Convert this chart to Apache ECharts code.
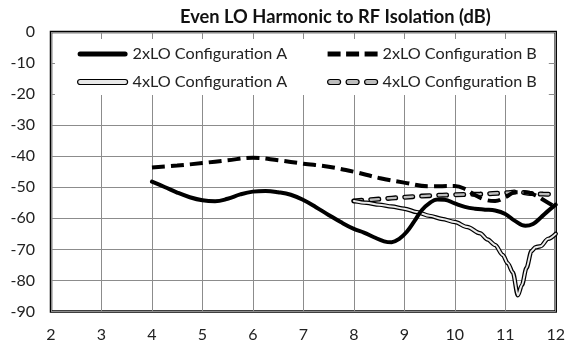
<!DOCTYPE html>
<html>
<head>
<meta charset="utf-8">
<script src="https://cdn.jsdelivr.net/npm/echarts@6/dist/echarts.min.js"></script>
<style>
  html, body { margin: 0; padding: 0; background: #fff; }
  #chart { width: 568px; height: 349px; }
</style>
</head>
<body>
<div id="chart"></div>
<script>
// Frequency (x) and isolation (dB) for each configuration
const freq2xA = [4.0, 4.25, 4.5, 4.75, 5.0, 5.25, 5.5, 5.75, 6.0, 6.25, 6.5, 6.75, 7.0, 7.25, 7.5, 7.75, 8.0, 8.2, 8.4, 8.6, 8.75, 8.9, 9.05, 9.2, 9.35, 9.5, 9.65, 9.8, 10.0, 10.2, 10.4, 10.6, 10.8, 11.0, 11.2, 11.4, 11.55, 11.7, 11.85, 12.0];
const iso2xA  = [-48.2, -49.9, -51.7, -53.2, -54.2, -54.5, -53.7, -52.3, -51.4, -51.2, -51.6, -52.4, -54.1, -56.4, -58.9, -61.3, -63.4, -64.6, -66.1, -67.4, -67.7, -66.6, -64.3, -60.9, -57.3, -55.1, -53.9, -54.0, -55.2, -56.3, -56.9, -57.2, -57.5, -58.6, -60.9, -62.4, -61.8, -59.8, -57.6, -55.6];

const freq2xB = [4.0, 4.5, 5.0, 5.5, 6.0, 6.5, 7.0, 7.5, 8.0, 8.5, 9.0, 9.5, 10.0, 10.2, 10.4, 10.6, 10.8, 11.0, 11.2, 11.4, 11.6, 11.8, 12.0];
const iso2xB  = [-43.6, -43.0, -42.2, -41.3, -40.5, -41.3, -42.4, -43.4, -45.0, -47.0, -48.5, -49.7, -49.6, -50.5, -52.5, -54.0, -54.4, -53.2, -51.6, -51.6, -52.6, -54.5, -56.4];

const freq4xA = [8.0, 8.25, 8.5, 8.75, 9.0, 9.25, 9.5, 9.75, 10.0, 10.25, 10.5, 10.65, 10.8, 10.95, 11.05, 11.15, 11.25, 11.33, 11.42, 11.52, 11.6, 11.7, 11.85, 12.0];
const iso4xA  = [-54.4, -55.0, -55.6, -56.2, -56.9, -58.0, -59.2, -60.2, -61.2, -62.8, -64.8, -66.8, -68.6, -71.8, -74.5, -77.4, -84.8, -81.5, -76.0, -70.5, -69.3, -69.0, -66.6, -65.0];

const freq4xB = [8.0, 8.5, 9.0, 9.5, 10.0, 10.5, 11.0, 11.25, 11.5, 11.75, 12.0];
const iso4xB  = [-54.4, -53.8, -53.2, -52.7, -52.4, -52.2, -51.8, -51.5, -52.0, -52.2, -52.3];

const xTicks = [2, 3, 4, 5, 6, 7, 8, 9, 10, 11, 12];
const yTicks = [0, -10, -20, -30, -40, -50, -60, -70, -80, -90];

const names = ['2xLO Configuration A', '2xLO Configuration B', '4xLO Configuration A', '4xLO Configuration B'];

const pairs = (xs, ys) => xs.map((x, i) => [x, ys[i]]);

const FONT = 'Lato';

// legend swatches
const solidIcon = 'path://M2.5,0H47.5A2.5,2.5,0,0,1,47.5,5H2.5A2.5,2.5,0,0,1,2.5,0Z';
const dashIcon = 'path://M0,0H13V5H0Z M18.5,0H31.5V5H18.5Z M37,0H50V5H37Z';
const ovalDashIcon = 'path://M2.5,0H10.5A2.5,2.5,0,0,1,10.5,5H2.5A2.5,2.5,0,0,1,2.5,0Z M21,0H29A2.5,2.5,0,0,1,29,5H21A2.5,2.5,0,0,1,21,0Z M39.5,0H47.5A2.5,2.5,0,0,1,47.5,5H39.5A2.5,2.5,0,0,1,39.5,0Z';

const legendText = { fontFamily: FONT, fontSize: 16.2, color: '#222', lineHeight: 18 };

const chart = echarts.init(document.getElementById('chart'), null, { renderer: 'canvas' });

const lineBase = { type: 'line', showSymbol: false, symbol: 'none', smooth: 0.4, silent: true };

chart.setOption({
  animation: false,
  backgroundColor: '#fff',
  title: {
    text: 'Even LO Harmonic to RF Isolation (dB)',
    left: 175,
    top: 3,
    textStyle: { fontFamily: FONT, fontWeight: 'bold', fontSize: 18.3, color: '#111' }
  },
  legend: [
    {
      orient: 'vertical',
      left: 55,
      top: 39,
      padding: [6, 40, 4, 22],
      backgroundColor: '#fff',
      itemWidth: 50,
      itemHeight: 5,
      itemGap: 10,
      selectedMode: false,
      textStyle: legendText,
      data: [
        { name: names[0], icon: solidIcon, itemStyle: { color: '#000', borderWidth: 0 } },
        { name: names[2], icon: solidIcon, itemStyle: { color: '#e8e8e8', borderColor: '#000', borderWidth: 1.2 } }
      ]
    },
    {
      orient: 'vertical',
      left: 303,
      top: 39,
      padding: [6, 12, 4, 24],
      backgroundColor: '#fff',
      itemWidth: 50,
      itemHeight: 5,
      itemGap: 10,
      selectedMode: false,
      textStyle: legendText,
      data: [
        { name: names[1], icon: dashIcon, itemStyle: { color: '#000', borderWidth: 0 } },
        { name: names[3], icon: ovalDashIcon, itemStyle: { color: '#bdbdbd', borderColor: '#000', borderWidth: 1.2 } }
      ]
    }
  ],
  grid: {
    left: 51, right: 10.5, top: 32, bottom: 37.5,
    show: true, borderColor: '#000', borderWidth: 2.5, backgroundColor: 'transparent'
  },
  xAxis: {
    type: 'value',
    min: xTicks[0], max: xTicks[xTicks.length - 1], interval: 1,
    axisLine: { show: false },
    axisTick: { show: false },
    splitLine: { show: true, lineStyle: { color: '#8c8c8c', width: 1 } },
    axisLabel: { margin: 15, fontFamily: FONT, fontSize: 16, color: '#222',
      formatter: v => xTicks.includes(v) ? String(v) : '' }
  },
  yAxis: {
    type: 'value',
    min: yTicks[yTicks.length - 1], max: yTicks[0], interval: 10,
    axisLine: { show: false },
    axisTick: { show: false },
    splitLine: { show: true, lineStyle: { color: '#8c8c8c', width: 1 } },
    axisLabel: { margin: 16, fontFamily: FONT, fontSize: 16, color: '#222',
      formatter: v => yTicks.includes(v) ? String(v) : '' }
  },
  series: [
    // 4xLO B: outlined oval dashes
    Object.assign({}, lineBase, { name: names[3], data: pairs(freq4xB, iso4xB), z: 2,
      lineStyle: { color: '#000', width: 5, type: [8, 9], cap: 'round' } }),
    Object.assign({}, lineBase, { name: names[3], data: pairs(freq4xB, iso4xB), z: 3,
      lineStyle: { color: '#bdbdbd', width: 2.4, type: [8, 9], cap: 'round' } }),
    // 4xLO A: double line
    Object.assign({}, lineBase, { name: names[2], data: pairs(freq4xA, iso4xA), z: 4, smooth: 0.3, smoothMonotone: 'x',
      lineStyle: { color: '#000', width: 4.4, cap: 'round', join: 'round' } }),
    Object.assign({}, lineBase, { name: names[2], data: pairs(freq4xA, iso4xA), z: 5, smooth: 0.3, smoothMonotone: 'x',
      lineStyle: { color: '#ececec', width: 2, cap: 'round', join: 'round' } }),
    // 2xLO B: heavy dash
    Object.assign({}, lineBase, { name: names[1], data: pairs(freq2xB, iso2xB), z: 6,
      lineStyle: { color: '#000', width: 4, type: [13, 6] } }),
    // 2xLO A: heavy solid
    Object.assign({}, lineBase, { name: names[0], data: pairs(freq2xA, iso2xA), z: 7,
      lineStyle: { color: '#000', width: 4, cap: 'round', join: 'round' } })
  ]
});
</script>
</body>
</html>
